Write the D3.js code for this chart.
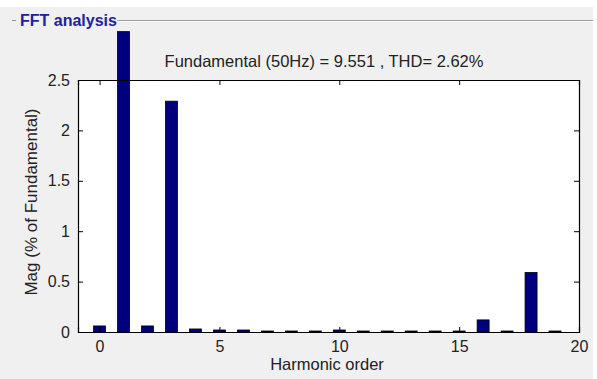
<!DOCTYPE html>
<html>
<head>
<meta charset="utf-8">
<script src="https://cdn.jsdelivr.net/npm/d3@7"></script>
<style>
  body { margin: 0; background: #ffffff; }
  svg { display: block; font-family: Arial, "Liberation Sans", sans-serif; }
</style>
</head>
<body>
<div id="chart"></div>
<script>
'use strict';

// harmonic orders and magnitudes (% of fundamental)
var orders = [0, 1, 2, 3, 4, 5, 6, 7, 8, 9, 10, 11, 12, 13, 14, 15, 16, 17, 18, 19];
var mags   = [0.06, 2.98, 0.06, 2.29, 0.03, 0.02, 0.02, 0.01, 0.01, 0.01, 0.02, 0.01, 0.01, 0.01, 0.01, 0.01, 0.12, 0.01, 0.59, 0.01];
var xTicks = [0, 5, 10, 15, 20];
var yTicks = [0, 0.5, 1, 1.5, 2, 2.5];
var panelTitle = "FFT analysis";
var infoText = "Fundamental (50Hz) = 9.551 , THD= 2.62%";

var W = 597, H = 379;
var margins = {top: 80, bottom: 47, left: 78, right: 18};
var pw = W - margins.left - margins.right;
var ph = H - margins.top - margins.bottom;

var svg = d3.select("#chart").append("svg")
    .attr("width", W)
    .attr("height", H);

// panel background
svg.append("rect")
    .attr("x", 0).attr("y", 7)
    .attr("width", 593).attr("height", H - 7)
    .attr("fill", "#f0f0f0");

// etched panel border line
svg.append("line")
    .attr("x1", 117).attr("x2", 593)
    .attr("y1", 20.5).attr("y2", 20.5)
    .attr("stroke", "#a0a0a0");
svg.append("line")
    .attr("x1", 117).attr("x2", 593)
    .attr("y1", 21.5).attr("y2", 21.5)
    .attr("stroke", "#ffffff");
svg.append("line")
    .attr("x1", 12).attr("x2", 16)
    .attr("y1", 20.5).attr("y2", 20.5)
    .attr("stroke", "#909090");

svg.append("text")
    .attr("x", 20).attr("y", 26)
    .attr("font-size", 16)
    .attr("font-weight", "bold")
    .attr("fill", "#22229a")
    .text(panelTitle);

var x = d3.scaleLinear().domain([-0.9, 20]).range([0, pw]);
var y = d3.scaleLinear().domain([0, 2.5]).range([ph, 0]);

var g = svg.append("g")
    .attr("transform", "translate(" + margins.left + "," + margins.top + ")");

g.append("rect")
    .attr("width", pw).attr("height", ph)
    .attr("fill", "#ffffff");

// bars (not clipped, like the original)
var bw = x(0.5) - x(0);
g.selectAll(".bar")
    .data(orders)
    .enter().append("rect")
    .attr("class", "bar")
    .attr("x", function(d) { return x(d) - bw / 2; })
    .attr("y", function(d, i) { return y(mags[i]); })
    .attr("width", bw)
    .attr("height", function(d, i) { return Math.max(1, y(0) - y(mags[i])); })
    .attr("fill", "#00007f")
    .attr("stroke", "#000000")
    .attr("stroke-width", 0.8);

// axes
var axB = g.append("g").attr("transform", "translate(0," + ph + ")")
    .call(d3.axisBottom(x).tickValues(xTicks).tickSize(-5).tickPadding(9));
var axT = g.append("g")
    .call(d3.axisTop(x).tickValues(xTicks).tickSize(-5).tickFormat(""));
var axL = g.append("g")
    .call(d3.axisLeft(y).tickValues(yTicks).tickSize(-5).tickPadding(8)
        .tickFormat(function(d) { return d; }));
var axR = g.append("g").attr("transform", "translate(" + pw + ",0)")
    .call(d3.axisRight(y).tickValues(yTicks).tickSize(-5).tickFormat(""));

[axB, axT, axL, axR].forEach(function(a) {
    a.select(".domain").attr("stroke", "#000").attr("stroke-width", 1.2);
    a.selectAll(".tick line").attr("stroke", "#000");
    a.selectAll("text").attr("font-size", 16).attr("fill", "#222")
        .attr("font-family", "Arial, 'Liberation Sans', sans-serif");
});

svg.append("text")
    .attr("x", 327)
    .attr("y", 370)
    .attr("text-anchor", "middle")
    .attr("font-size", 16.5)
    .attr("fill", "#222")
    .text("Harmonic order");

svg.append("text")
    .attr("transform", "translate(37," + (margins.top + ph / 2 - 4) + ") rotate(-90)")
    .attr("text-anchor", "middle")
    .attr("font-size", 17)
    .attr("fill", "#222")
    .text("Mag (% of Fundamental)");

svg.append("text")
    .attr("x", 324)
    .attr("y", 67)
    .attr("text-anchor", "middle")
    .attr("font-size", 16.5)
    .attr("fill", "#222")
    .text(infoText);
</script>
</body>
</html>
